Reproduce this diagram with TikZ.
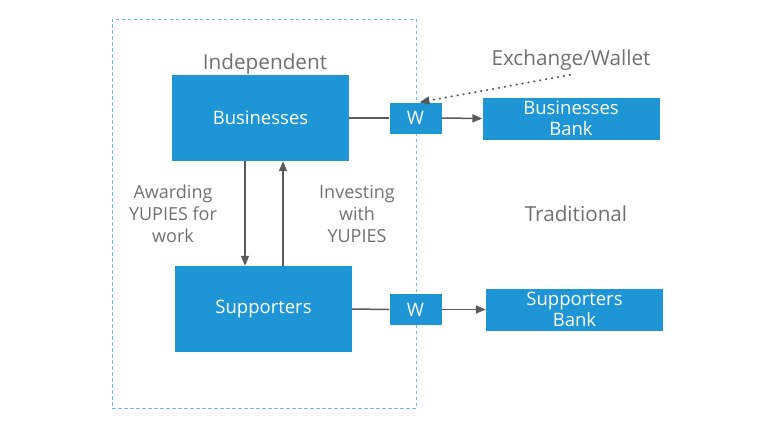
\documentclass[tikz,border=0pt]{standalone}
\usepackage{fontspec}
\setmainfont{Open Sans}
\usetikzlibrary{positioning,arrows.meta,calc}
\definecolor{boxblue}{HTML}{1E96D6}
\definecolor{linegray}{HTML}{5A5A5A}
\definecolor{txtgray}{HTML}{707070}
\definecolor{zoneblue}{HTML}{6CC0DE}

\begin{document}
\begin{tikzpicture}[
    x=1pt,y=-1pt,
    blk/.style    ={fill=boxblue,text=white,inner sep=0pt,align=center,
                    font=\fontsize{18.5}{21}\selectfont},
    bigbox/.style ={blk,minimum width=177pt,minimum height=86pt},
    wbox/.style   ={blk,minimum width=52pt,minimum height=31pt},
    bankbox/.style={blk,minimum width=177pt,minimum height=42pt},
    zonebox/.style={draw=zoneblue,dashed,dash pattern=on 3.5pt off 2.5pt,line width=0.9pt,
                    minimum width=304pt,minimum height=389pt,inner sep=0pt},
    zone/.style   ={text=txtgray,font=\fontsize{20.7}{23}\selectfont},
    note/.style   ={text=txtgray,font=\fontsize{18}{22}\selectfont,align=center},
    flow/.style   ={-{Triangle[length=10pt,width=8pt]},linegray,line width=1.5pt},
    link/.style   ={linegray,line width=1.5pt},
    hint/.style   ={-{Triangle[length=10pt,width=8pt]},linegray,line width=2pt,
                    dash pattern=on 0.5pt off 5.5pt,line cap=round}
]
\useasboundingbox (0,0) rectangle (768,432);

\node[zonebox] (indep) at (264,213.5) {};
\node[zone]    (indeplbl) at (265,64) {Independent};

\node[bigbox]  (bus) at (260.5,118) {Businesses};
\node[bigbox]  (sup) at (263.5,309) {Supporters};

\node[wbox]    (w1)  at (415.5,118) {W};
\node[wbox]    (w2)  at (415.5,309.5) {W};

\node[bankbox] (busbank) at (571,118.5) {Businesses\\Bank};
\node[bankbox] (supbank) at (574.5,309.5) {Supporters\\Bank};

\node[zone]    (exch) at (571,60)  {Exchange/Wallet};
\node[zone]    (trad) at (576,214) {Traditional};

% money flow between the two groups
\coordinate (dn) at ($(bus.south)+(-15.5,0)$);
\coordinate (up) at ($(bus.south)+(22.5,0)$);
\draw[flow] (dn) -- (dn |- sup.north);
\draw[flow] (up |- sup.north) -- (up);

\node[note] (award)  at (173,214) {Awarding\\YUPIES for\\work};
\node[note] (invest) at (357,214) {Investing\\with\\YUPIES};

% wallets out to the banks
\draw[link] (bus.east) -- (w1.west);
\draw[flow] (w1.east)  -- (busbank.west);
\draw[link] (sup.east) -- (w2.west);
\draw[flow] (w2.east)  -- (supbank.west);

\draw[hint] ([xshift=-1pt,yshift=-1pt]exch.south) -- ([xshift=4pt]w1.north);

\end{tikzpicture}
\end{document}
